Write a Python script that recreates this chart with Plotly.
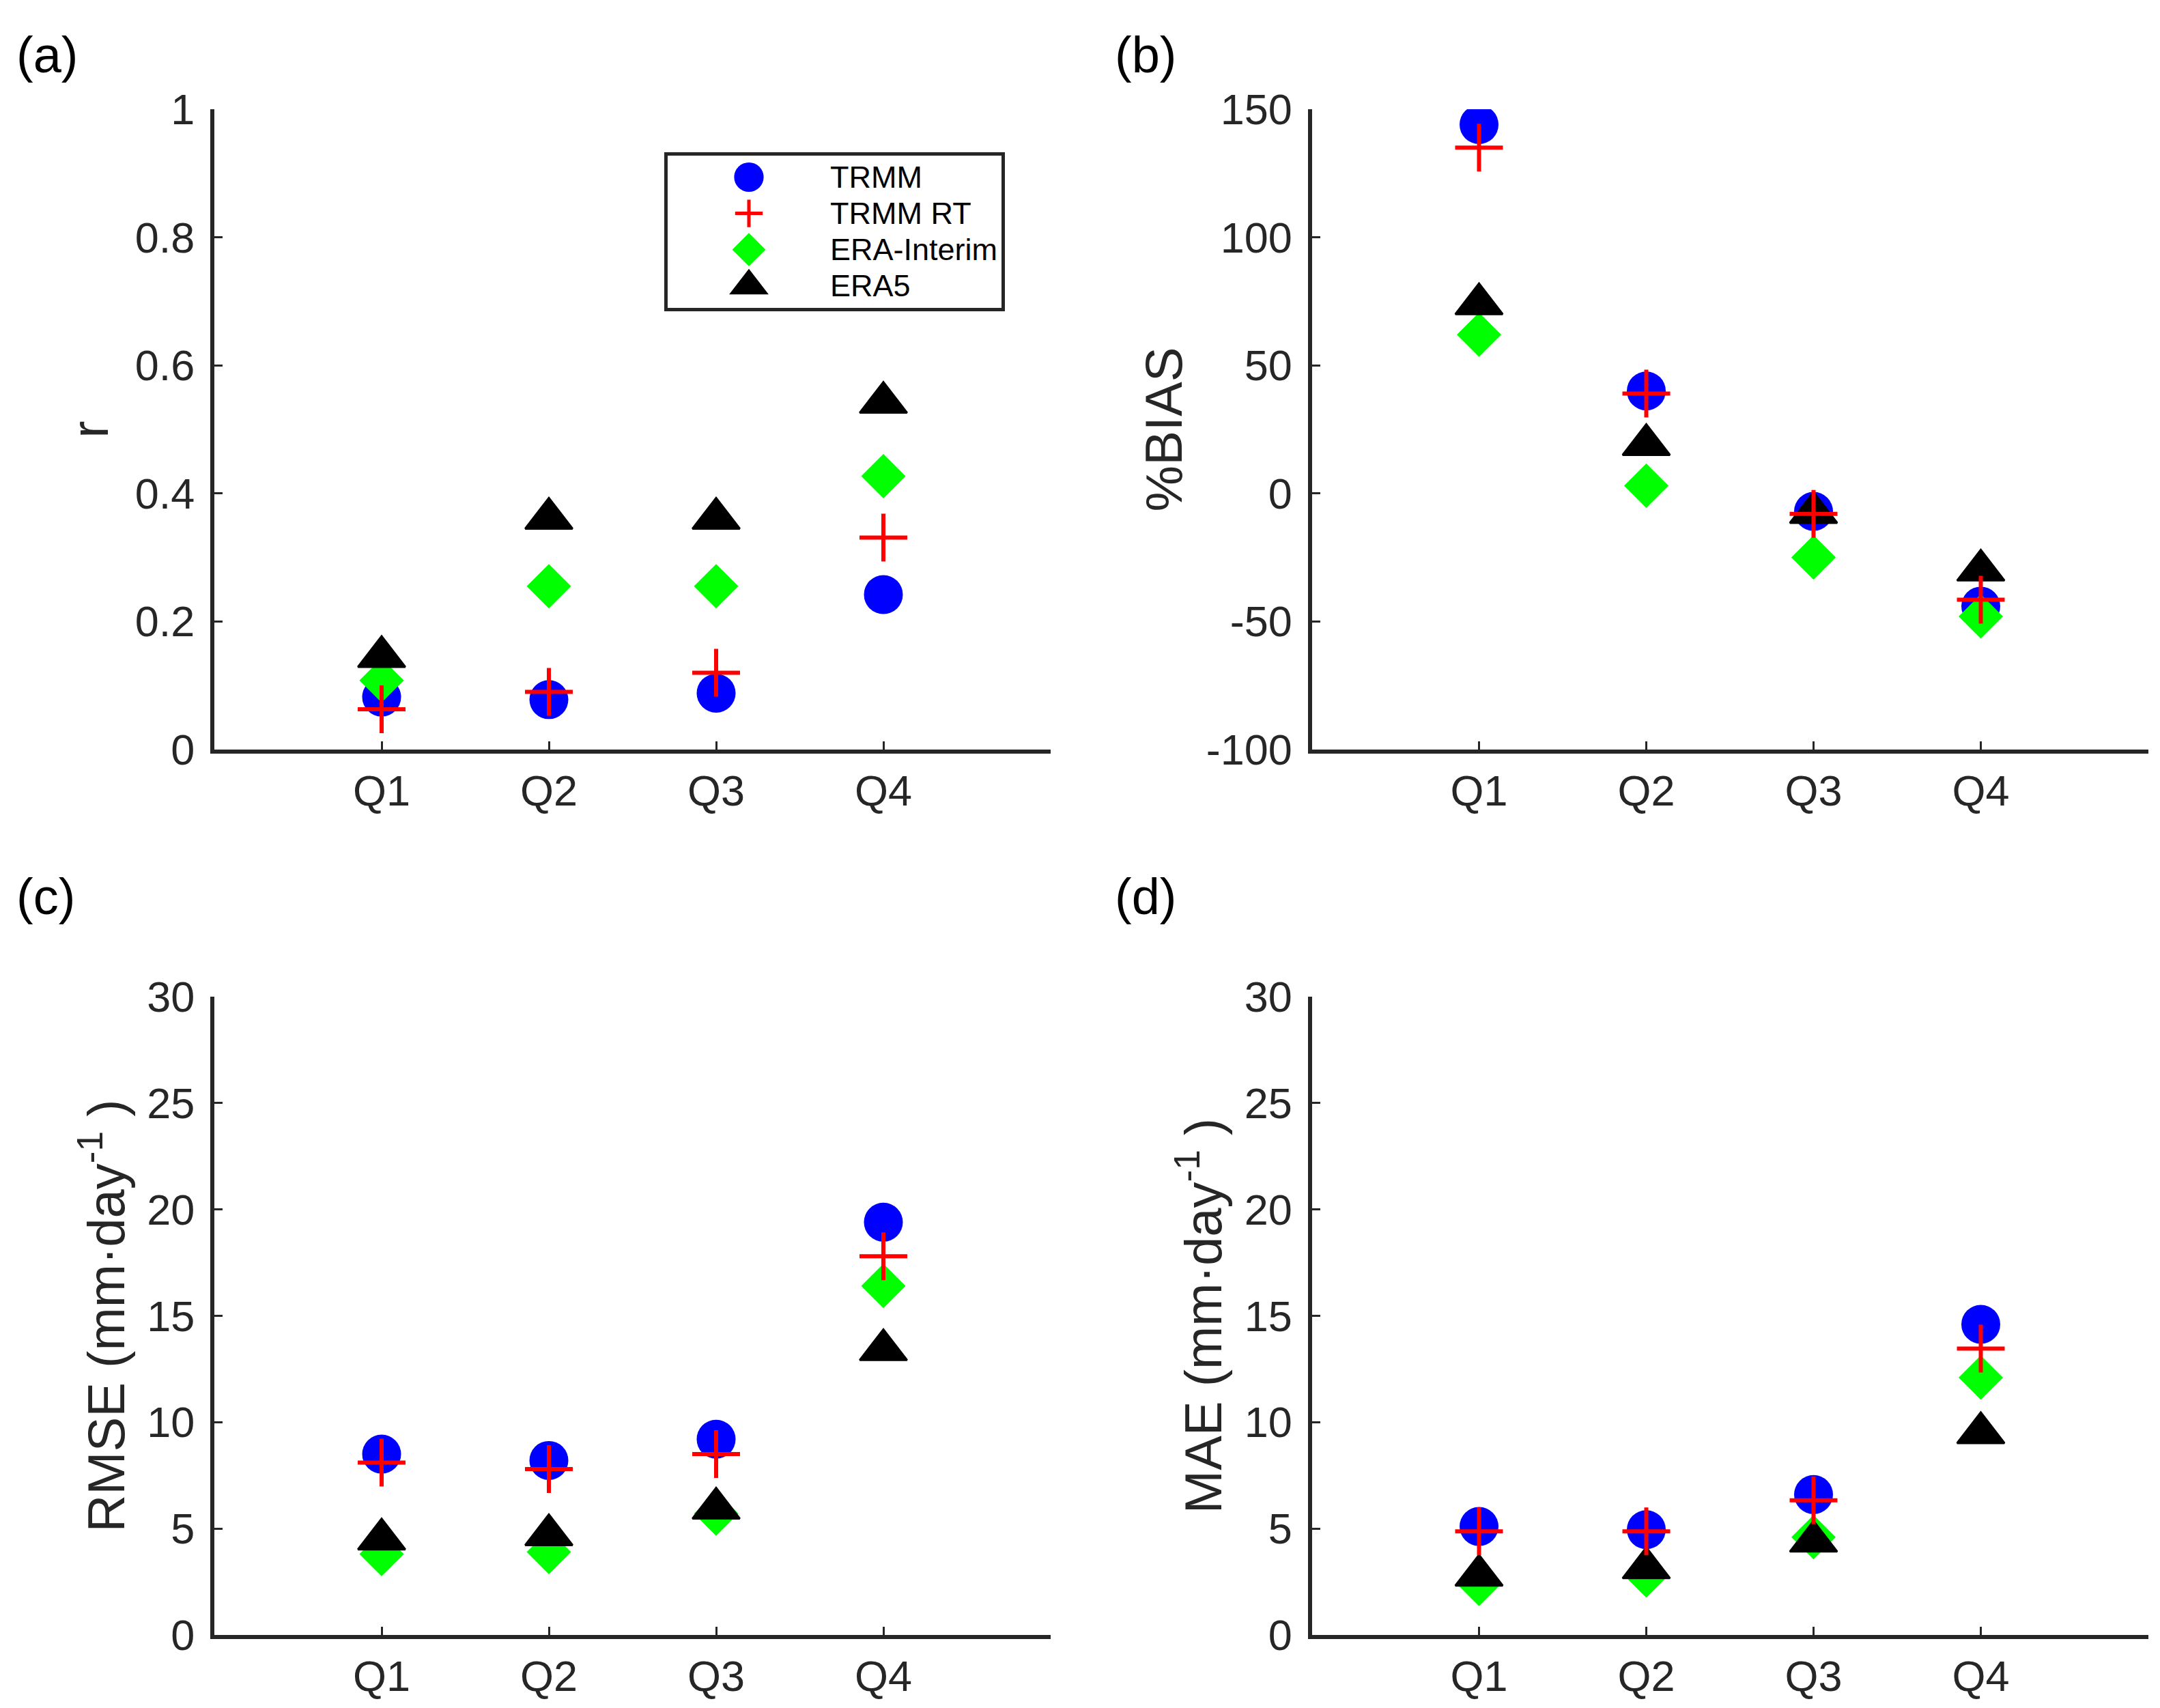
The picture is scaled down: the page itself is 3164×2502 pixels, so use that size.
import plotly.graph_objects as go

# ---------------- data ----------------
categories = ["Q1", "Q2", "Q3", "Q4"]
series_names = ["TRMM", "TRMM RT", "ERA-Interim", "ERA5"]

r_trmm = [0.082, 0.078, 0.088, 0.242]
r_trmm_rt = [0.063, 0.090, 0.120, 0.331]
r_era_interim = [0.108, 0.255, 0.255, 0.427]
r_era5 = [0.145, 0.361, 0.361, 0.542]

bias_trmm = [144, 40, -7, -44]
bias_trmm_rt = [135, 39, -8, -41.5]
bias_era_interim = [62, 3, -25, -48]
bias_era5 = [74, 19, -7.5, -30]

rmse_trmm = [8.5, 8.2, 9.2, 19.4]
rmse_trmm_rt = [8.1, 7.8, 8.5, 17.8]
rmse_era_interim = [3.8, 3.9, 5.7, 16.4]
rmse_era5 = [4.5, 4.7, 5.95, 13.4]

mae_trmm = [5.1, 4.95, 6.6, 14.6]
mae_trmm_rt = [4.87, 4.87, 6.33, 13.46]
mae_era_interim = [2.4, 2.8, 4.6, 12.1]
mae_era5 = [2.8, 3.15, 4.4, 9.5]

bias_ticks = [-100, -50, 0, 50, 100, 150]
bias_tick_labels = ["-100", "-50", "0", "50", "100", "150"]
metric_ticks = [0, 5, 10, 15, 20, 25, 30]
r_ticks = [0, 0.2, 0.4, 0.6, 0.8, 1]
r_tick_labels = ["0", "0.2", "0.4", "0.6", "0.8", "1"]

panel_labels = ["(a)", "(b)", "(c)", "(d)"]
y_titles = ["r", "%BIAS", "RMSE (mm·day<sup>-1</sup> )", "MAE (mm·day<sup>-1</sup> )"]

# ---------------- styling ----------------
FONT = "Liberation Sans, Arial, Helvetica, sans-serif"
AX = "#262626"
PAGE_W, PAGE_H = 3164, 2502
OFF = 8  # default page (body) margin around the figure
W, H = PAGE_W - 2 * OFF, PAGE_H - 2 * OFF


def fx(px):
    return (px - OFF) / W


def fy(py):
    return 1 - (py - OFF) / H


x_pos = [i + 1 for i in range(len(categories))]
x_end = len(categories) + 1

styles = {
    "TRMM": dict(symbol="circle", size=57, color="#0000FF", line=dict(width=0)),
    "TRMM RT": dict(symbol="cross-thin", size=50, color="#FF0000",
                    line=dict(width=6, color="#FF0000")),
    "ERA-Interim": dict(symbol="diamond", size=50, color="#00FF00", line=dict(width=0)),
    "ERA5": dict(symbol="triangle-up", size=60, color="#000000",
                 line=dict(width=3, color="#000000")),
}
legend_rank = {"TRMM": 1, "TRMM RT": 2, "ERA-Interim": 3, "ERA5": 4}
draw_order = ["TRMM", "ERA-Interim", "ERA5", "TRMM RT"]

panels = [
    {"TRMM": r_trmm, "TRMM RT": r_trmm_rt, "ERA-Interim": r_era_interim, "ERA5": r_era5},
    {"TRMM": bias_trmm, "TRMM RT": bias_trmm_rt, "ERA-Interim": bias_era_interim, "ERA5": bias_era5},
    {"TRMM": rmse_trmm, "TRMM RT": rmse_trmm_rt, "ERA-Interim": rmse_era_interim, "ERA5": rmse_era5},
    {"TRMM": mae_trmm, "TRMM RT": mae_trmm_rt, "ERA-Interim": mae_era_interim, "ERA5": mae_era5},
]

LEGEND_TEXT_PX = 45


def legend_name(name):
    return '<span style="font-size:%dpx">%s</span>' % (LEGEND_TEXT_PX, name)


fig = go.Figure()
for p, data in enumerate(panels):
    suffix = "" if p == 0 else str(p + 1)
    for name in draw_order:
        fig.add_trace(go.Scatter(
            x=x_pos, y=data[name], mode="markers", name=legend_name(name),
            marker=styles[name], xaxis="x" + suffix, yaxis="y" + suffix,
            showlegend=(p == 0), legendgroup=name, legendrank=legend_rank[name],
            hovertemplate=name + ": %{y}<extra></extra>",
        ))

# domains (page pixel positions converted to paper fractions)
xdom_left = [fx(314), fx(1539)]
xdom_right = [fx(1921.5), fx(3146.5)]
ydom_top = [fy(1098), fy(160)]
ydom_bot = [fy(2395), fy(1460)]

doms = [(xdom_left, ydom_top), (xdom_right, ydom_top),
        (xdom_left, ydom_bot), (xdom_right, ydom_bot)]
yranges = [[0, 1], [-100, 150], [0, 30], [0, 30]]
yticks = [(r_ticks, r_tick_labels), (bias_ticks, bias_tick_labels),
          (metric_ticks, [str(t) for t in metric_ticks]),
          (metric_ticks, [str(t) for t in metric_ticks])]
title_standoff = [16, 12, 10, 10]

axis_common = dict(
    showline=True, linewidth=6, linecolor=AX, mirror=False,
    showgrid=False, zeroline=False, ticks="inside", ticklen=12,
    tickwidth=3, tickcolor=AX, automargin=False,
    tickfont=dict(family=FONT, size=63, color=AX),
)

layout = {}
for p in range(4):
    suffix = "" if p == 0 else str(p + 1)
    xd, yd = doms[p]
    layout["xaxis" + suffix] = dict(
        axis_common, domain=xd, range=[0, x_end], anchor="y" + suffix,
        tickvals=x_pos, ticktext=categories,
        ticklabelstandoff=0,
        minor=dict(tickvals=[x_end], ticks="inside", ticklen=12, tickwidth=6,
                   tickcolor=AX, showgrid=False),
    )
    layout["yaxis" + suffix] = dict(
        axis_common, domain=yd, range=yranges[p], anchor="x" + suffix,
        tickvals=yticks[p][0], ticktext=yticks[p][1],
        ticklabelstandoff=10,
        title=dict(text=y_titles[p], font=dict(family=FONT, size=76, color=AX),
                   standoff=title_standoff[p]),
    )

annotations = []
label_pos = [(22, 80), (1631, 80), (22, 1313), (1631, 1313)]
for lab, (lx, ly) in zip(panel_labels, label_pos):
    annotations.append(dict(
        text=lab, x=fx(lx), y=fy(ly), xref="paper", yref="paper",
        xanchor="left", yanchor="middle", showarrow=False,
        font=dict(family=FONT, size=74, color="#000000"),
    ))

fig.update_layout(
    **layout,
    annotations=annotations,
    width=W, height=H,
    margin=dict(l=0, r=0, t=0, b=0, autoexpand=False),
    paper_bgcolor="white", plot_bgcolor="white",
    font=dict(family=FONT, color=AX),
    legend=dict(
        x=fx(973), y=fy(223), xanchor="left", yanchor="top",
        bgcolor="white", bordercolor=AX, borderwidth=5,
        font=dict(family=FONT, size=38.5, color="#000000"),
        itemwidth=228, traceorder="normal", tracegroupgap=0,
    ),
)

# enlarge the legend symbols to resemble the plot markers
post = """
var gd = document.getElementById('{plot_id}');
function bigLegend(){
  var scales = [2.7, 1.8, 2.35, 2.8];
  gd.querySelectorAll('.legend .traces').forEach(function(tr, i){
    var s = scales[i] || 2.5;
    tr.querySelectorAll('.legendpoints path.scatterpts').forEach(function(p){
      var t = p.getAttribute('transform') || '';
      if (t.indexOf('scale') < 0) {
        p.setAttribute('transform', t + ' scale(' + s + ')');
        p.style.vectorEffect = 'non-scaling-stroke';
      }
    });
  });
}
bigLegend();
gd.on('plotly_afterplot', bigLegend);
"""

fig.write_html("out.html", post_script=post)
